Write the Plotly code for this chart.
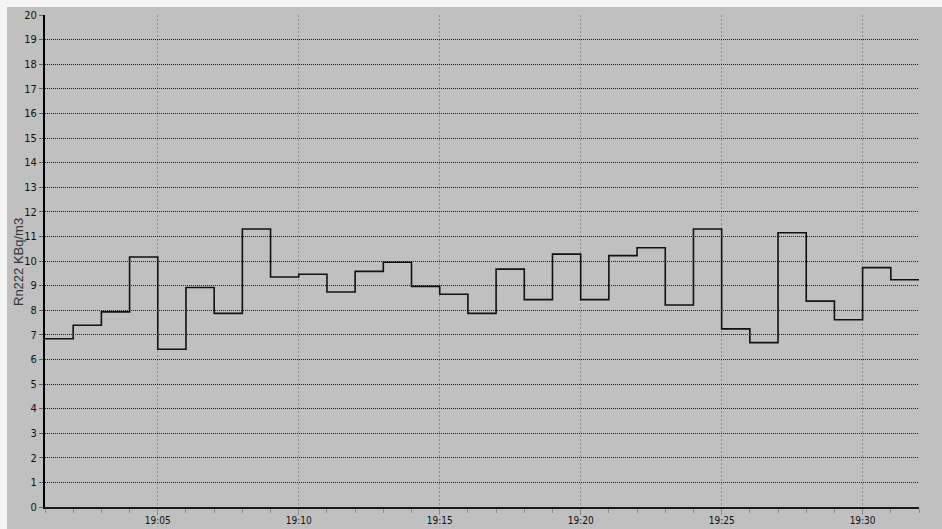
import plotly.graph_objects as go

# Radon-222 concentration, one reading per minute (step start = minutes after 19:00)
step_start_min = [1, 2, 3, 4, 5, 6, 7, 8, 9, 10, 11, 12, 13, 14, 15, 16,
                  17, 18, 19, 20, 21, 22, 23, 24, 25, 26, 27, 28, 29, 30, 31]
rn222_kbq_m3 = [6.84, 7.39, 7.93, 10.16, 6.41, 8.92, 7.87, 11.30, 9.35, 9.46,
                8.74, 9.58, 9.95, 8.97, 8.65, 7.87, 9.67, 8.43, 10.28, 8.43,
                10.22, 10.54, 8.21, 11.30, 7.24, 6.68, 11.15, 8.37, 7.61, 9.73, 9.24]
series_end_min = 32

tick_vals = [5, 10, 15, 20, 25, 30]
tick_text = ["19:05", "19:10", "19:15", "19:20", "19:25", "19:30"]
y_ticks = list(range(0, 21))

W, H = 942, 529
ML, MR, MT, MB = 45, 23, 15, 22
PW, PH = W - ML - MR, H - MT - MB

BG = "#c0c0c0"
FONT_FAMILY = "Liberation Sans Narrow, DejaVu Sans Condensed, Arial Narrow, Liberation Sans, sans-serif"
Y_TICK_FONT = dict(family=FONT_FAMILY, size=11, color="#111111")
X_TICK_FONT = dict(family=FONT_FAMILY, size=10, color="#111111")

# last value is held until the end of the final interval
xs = step_start_min + [series_end_min]
ys = rn222_kbq_m3 + [rn222_kbq_m3[-1]]

fig = go.Figure()
fig.add_trace(go.Scatter(
    x=xs, y=ys, mode="lines", line_shape="hv",
    line=dict(color="#111111", width=1.6),
    hoverinfo="skip", showlegend=False,
))

fig.update_layout(
    width=W, height=H,
    margin=dict(l=ML, r=MR, t=MT, b=MB, pad=0, autoexpand=False),
    paper_bgcolor=BG, plot_bgcolor=BG,
    showlegend=False,
    xaxis=dict(
        range=[step_start_min[0], series_end_min],
        automargin=False,
        tickmode="array", tickvals=tick_vals, ticktext=tick_text,
        ticks="outside", ticklen=6, tickcolor="#8a8a8a", tickwidth=1,
        tickfont=X_TICK_FONT, ticklabelstandoff=-3,
        showgrid=True, gridcolor="#8c8c8c", gridwidth=1, griddash="2px,2px",
        showline=True, linecolor="#1a1a1a", linewidth=2,
        zeroline=False,
        minor=dict(dtick=1, tick0=0, ticks="outside", ticklen=4,
                   tickcolor="#8a8a8a", showgrid=False),
    ),
    yaxis=dict(
        range=[0, 20],
        automargin=False,
        tickmode="array", tickvals=y_ticks, ticktext=[str(v) for v in y_ticks],
        ticks="outside", ticklen=4, tickcolor="#666666", tickwidth=1,
        tickfont=Y_TICK_FONT,
        showgrid=True, gridcolor="#1a1a1a", gridwidth=1.2, griddash="1px,1px",
        showline=True, linecolor="#000000", linewidth=2,
        zeroline=False,
    ),
    annotations=[dict(
        text="Rn222 KBq/m3", textangle=-90,
        xref="paper", yref="paper",
        x=(18 - ML) / PW, y=(H - MB - 262) / PH,
        xanchor="center", yanchor="middle", showarrow=False,
        font=dict(family="Liberation Sans, Arial, sans-serif", size=13, color="#333333"),
    )],
    shapes=[
        # thin white frame along the top and left edges of the window
        dict(type="rect", xref="paper", yref="paper", layer="above",
             x0=-ML / PW, x1=(W - ML) / PW,
             y0=(H - MB - 7) / PH, y1=(H - MB) / PH,
             fillcolor="#f4f4f4", line=dict(width=0)),
        dict(type="rect", xref="paper", yref="paper", layer="above",
             x0=-ML / PW, x1=(7 - ML) / PW,
             y0=-MB / PH, y1=(H - MB) / PH,
             fillcolor="#f4f4f4", line=dict(width=0)),
    ],
)

fig.write_html("out.html")
